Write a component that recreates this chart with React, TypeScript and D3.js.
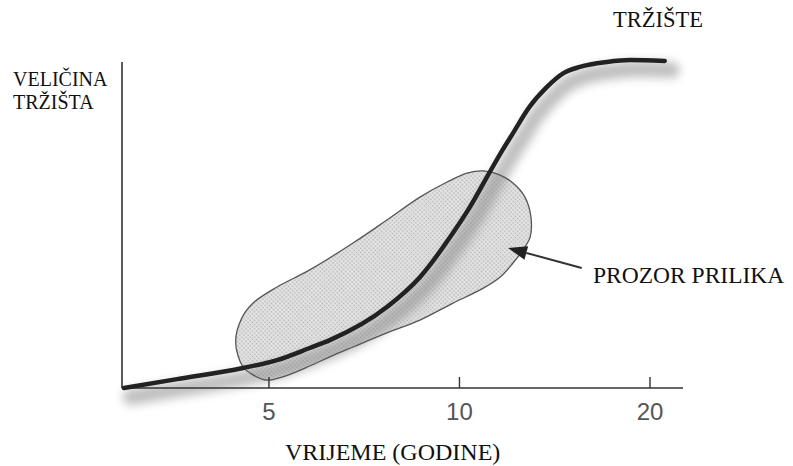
import React from 'react';
import * as d3 from 'd3';

// market growth curve (years, market size 0-100)
const curveYears = [2.95, 3.58, 4.55, 5.15, 5.8, 6.24, 7.68, 8.66, 9.77, 10.39, 11.05, 11.7, 12.15, 12.9, 13.75, 14.6, 15.5, 17.1, 18.6, 21.1];
const curveSize = [0, 2.7, 6.1, 8.5, 12.2, 14.6, 24.7, 33.8, 47.3, 55.2, 64.3, 72.6, 77.7, 85.7, 91.8, 96.0, 97.9, 99.4, 100, 99.7];

// outline of the "window of opportunity"
const windowYears = [4.43, 4.53, 4.72, 5.15, 5.8, 6.79, 7.68, 8.66, 9.56, 10.28, 10.89, 11.59, 12.15, 12.69, 12.97, 12.93, 12.6, 12.15, 11.59, 10.78, 9.77, 8.66, 7.68, 6.79, 6.24, 5.8, 5.26, 4.96, 4.72, 4.55];
const windowSize = [14.0, 21.3, 25.9, 30.8, 36.0, 44.2, 51.2, 58.2, 62.8, 65.5, 66.2, 64.9, 62.5, 58.2, 52.1, 46.0, 42.1, 38.1, 33.8, 29.9, 25.9, 20.7, 16.8, 12.5, 9.5, 6.7, 3.4, 2.4, 4.0, 6.4];

const xTicks = [5, 10, 20];
const yLabel = ['VELIČINA', 'TRŽIŠTA'];
const xLabel = 'VRIJEME (GODINE)';
const curveLabel = 'TRŽIŠTE';
const windowLabel = 'PROZOR PRILIKA';
// arrow from label to window: [year, size]
const arrowFrom = [15.6, 36.6];
const arrowTo = [11.93, 42.7];

const W = 793;
const H = 466;

const App = () => {
  const x = d3.scaleLog().base(2).domain([2.93, 22.55]).range([122, 683]);
  const y = d3.scaleLinear().domain([0, 100]).range([388, 60]);

  const curvePts: [number, number][] = curveYears.map((v, i) => [x(v), y(curveSize[i])]);
  const windowPts: [number, number][] = windowYears.map((v, i) => [x(v), y(windowSize[i])]);

  const line = d3.line().curve(d3.curveMonotoneX);
  const closed = d3.line().curve(d3.curveCatmullRomClosed.alpha(0.5));

  const curvePath = line(curvePts) || '';
  const windowPath = closed(windowPts) || '';

  const ax = x(arrowFrom[0]), ay = y(arrowFrom[1]);
  const tx = x(arrowTo[0]), ty = y(arrowTo[1]);
  const ang = Math.atan2(ty - ay, tx - ax);
  const headLen = 19, headW = 7;
  const bx = tx - headLen * Math.cos(ang), by = ty - headLen * Math.sin(ang);
  const head = [
    [tx, ty],
    [bx + headW * Math.sin(ang), by - headW * Math.cos(ang)],
    [bx - headW * Math.sin(ang), by + headW * Math.cos(ang)],
  ].map(p => p.join(',')).join(' ');

  return (
    <svg width={W} height={H} style={{ position: 'absolute', left: 0, top: 0, background: '#fff' }}>
      <style>{`
        .lbl { font-family: 'Liberation Serif'; fill: #111; }
        .tick { font-family: 'Liberation Sans'; fill: #555; }
      `}</style>
      <defs>
        <filter id="blur" x="-20%" y="-20%" width="140%" height="140%">
          <feGaussianBlur stdDeviation="5" />
        </filter>
        <pattern id="dots" width="3" height="3" patternUnits="userSpaceOnUse" patternTransform="rotate(45)">
          <rect width="3" height="3" fill="#e4e4e4" />
          <circle cx="1.5" cy="1.5" r="0.85" fill="#b0b0b0" />
        </pattern>
      </defs>

      {/* window of opportunity */}
      <path d={windowPath} fill="url(#dots)" stroke="none" />

      {/* shadow of curve */}
      <path d={curvePath} fill="none" stroke="#8a8a8a" strokeWidth={16} strokeLinecap="round"
        opacity={0.55} transform="translate(7,9)" filter="url(#blur)" />

      <path d={windowPath} fill="none" stroke="#555" strokeWidth={1.3} />

      {/* axes */}
      <line x1={x.range()[0]} x2={x.range()[0]} y1={62} y2={y(0)} stroke="#333" strokeWidth={1.6} />
      <line x1={x.range()[0]} x2={x.range()[1]} y1={y(0)} y2={y(0)} stroke="#333" strokeWidth={1.6} />
      {xTicks.map(t => (
        <g key={t}>
          <line x1={x(t)} x2={x(t)} y1={y(0)} y2={y(0) - 11} stroke="#333" strokeWidth={1.4} />
          <text className="tick" x={x(t)} y={420} textAnchor="middle" fontSize={24}>{t}</text>
        </g>
      ))}

      {/* market curve */}
      <path d={curvePath} fill="none" stroke="#222" strokeWidth={4.5} strokeLinecap="round" />

      {/* arrow */}
      <line x1={ax} y1={ay} x2={bx} y2={by} stroke="#333" strokeWidth={2} />
      <polygon points={head} fill="#222" />

      {/* labels */}
      {yLabel.map((s, i) => (
        <text key={s} className="lbl" x={13} y={86 + i * 23} fontSize={20}>{s}</text>
      ))}
      <text className="lbl" x={613} y={27} fontSize={22.5}>{curveLabel}</text>
      <text className="lbl" x={593} y={283} fontSize={23.5}>{windowLabel}</text>
      <text className="lbl" x={285} y={460} fontSize={24}>{xLabel}</text>
    </svg>
  );
};

export default App;
